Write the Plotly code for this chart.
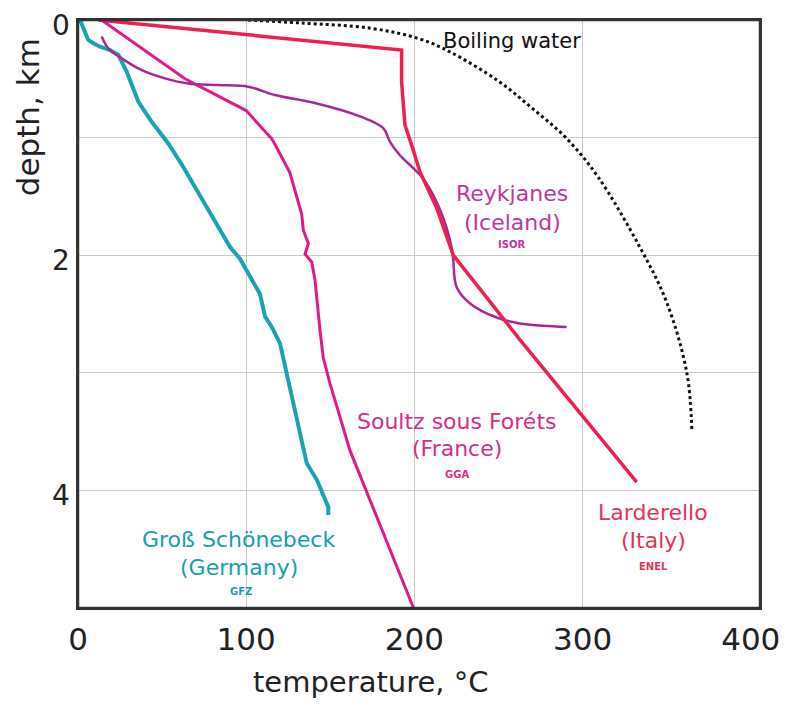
import plotly.graph_objects as go

# ---------------- data ----------------
boiling_T = [101, 132, 174, 203, 221, 250, 270, 290, 309, 334, 350, 362, 365]
boiling_d = [0, 0.025, 0.07, 0.16, 0.27, 0.52, 0.75, 1.0, 1.33, 1.93, 2.4, 3.0, 3.49]

lard_T = [12, 192.4, 192.4, 194.4, 198.4, 203.3, 213.3, 223.1, 262.8, 332.2]
lard_d = [0, 0.255, 0.525, 0.894, 1.064, 1.29, 1.6, 2.0, 2.72, 3.93]

soultz_T = [14, 63.6, 100, 115.2, 118, 126, 133, 134, 137, 135, 139, 140.9, 143.9,
            145.8, 149.8, 155.8, 161.7, 199.5]
soultz_d = [0, 0.5, 0.77, 1.01, 1.08, 1.3, 1.65, 1.79, 1.9, 1.99, 2.06, 2.21, 2.64,
            2.87, 3.09, 3.38, 3.66, 5.0]

gs_T = [1.2, 6.1, 9.1, 13.1, 19.0, 24.0, 29.0, 35.9, 43.8, 53.7, 62.6, 76.5, 90.4,
        96.3, 108.2, 111.2, 115.2, 120.1, 124.1, 134.0, 136.0, 142.0, 148.8, 148.8]
gs_d = [0, 0.17, 0.198, 0.227, 0.255, 0.298, 0.44, 0.695, 0.866, 1.05, 1.25, 1.59, 1.93,
        2.03, 2.33, 2.52, 2.61, 2.75, 3.01, 3.66, 3.77, 3.91, 4.14, 4.21]

rey_T = [14.1, 18, 26, 37.9, 51.7, 65.6, 83.4, 101.2, 117.1, 142, 167.7, 181.5, 185.5,
         191.4, 199.3, 205.3, 213.3, 219.2, 222.2, 223.1, 225.1, 233.1, 248.9, 262.8,
         276.6, 290.5]
rey_d = [0.14, 0.24, 0.326, 0.426, 0.496, 0.54, 0.553, 0.567, 0.638, 0.71, 0.82, 0.92,
         1.036, 1.15, 1.26, 1.35, 1.55, 1.77, 1.94, 2.04, 2.27, 2.41, 2.53, 2.58, 2.60, 2.61]

x_ticks = [0, 100, 200, 300, 400]
x_grid = [100, 200, 300]
y_ticks = [0, 2, 4]
y_grid = [1, 2, 3, 4]

# ---------------- styles ----------------
FONT = "DejaVu Sans"
C_GS, C_GS_T = "#1aa3b3", "#16a0ac"
C_SO, C_SO_T = "#e2198c", "#d92a8e"
C_LA, C_LA_T = "#ef2050", "#e2335a"
C_RE, C_RE_T = "#a42a92", "#c1369e"

fig = go.Figure()
fig.add_trace(go.Scatter(x=boiling_T, y=boiling_d, mode="lines", line_shape="spline",
                         line=dict(color="#111", width=3, dash="dot")))
fig.add_trace(go.Scatter(x=gs_T, y=gs_d, mode="lines",
                         line=dict(color=C_GS, width=4)))
fig.add_trace(go.Scatter(x=soultz_T, y=soultz_d, mode="lines",
                         line=dict(color=C_SO, width=3)))
fig.add_trace(go.Scatter(x=rey_T, y=rey_d, mode="lines", line_shape="spline",
                         line=dict(color=C_RE, width=2.5)))
fig.add_trace(go.Scatter(x=lard_T, y=lard_d, mode="lines",
                         line=dict(color=C_LA, width=3.5)))

labels = [
    ("Boiling water", 257.8, 0.18, 21, "#111", False),
    ("Reykjanes", 258.3, 1.472, 22, C_RE_T, False),
    ("(Iceland)", 258.3, 1.719, 22, C_RE_T, False),
    ("ISOR", 258.0, 1.906, 10, C_RE_T, True),
    ("Soultz sous Foréts", 225.3, 3.413, 22, C_SO_T, False),
    ("(France)", 225.6, 3.643, 22, C_SO_T, False),
    ("GGA", 225.6, 3.864, 10, C_SO_T, True),
    ("Larderello", 341.9, 4.187, 22, C_LA_T, False),
    ("(Italy)", 342.2, 4.426, 22, C_LA_T, False),
    ("ENEL", 342.2, 4.647, 10, C_LA_T, True),
    ("Groß Schönebeck", 95.7, 4.417, 22, C_GS_T, False),
    ("(Germany)", 95.7, 4.655, 22, C_GS_T, False),
    ("GFZ", 97.2, 4.86, 10, C_GS_T, True),
]
for txt, xv, yv, sz, col, bold in labels:
    fig.add_annotation(x=xv, y=yv, xref="x", yref="y", showarrow=False,
                       text=f"<b>{txt}</b>" if bold else txt,
                       font=dict(family=FONT, size=sz, color=col),
                       xanchor="center", yanchor="middle")

# y tick labels (placed slightly below their gridlines, as in the original)
for v in y_ticks:
    fig.add_annotation(x=-0.009, y=v, xref="paper", yref="y", showarrow=False,
                       text=str(v), yshift=-5,
                       font=dict(family=FONT, size=28, color="#222"),
                       xanchor="right", yanchor="middle")

fig.add_annotation(x=0.4296, y=-0.126, xref="paper", yref="paper", showarrow=False,
                   text="temperature, °C", font=dict(family=FONT, size=29, color="#222"),
                   xanchor="center", yanchor="middle")
fig.add_annotation(x=-0.073, y=0.835, xref="paper", yref="paper", showarrow=False,
                   text="depth, km", textangle=-90,
                   font=dict(family=FONT, size=31, color="#222"),
                   xanchor="center", yanchor="middle")

# plot frame (drawn on top as well)
fig.add_shape(type="rect", xref="paper", yref="paper", x0=0, y0=0, x1=1, y1=1,
              line=dict(color="#333", width=2.5), layer="above")

fig.update_xaxes(range=[0, 405.5], tickvals=x_ticks, showgrid=False, zeroline=False,
                 showline=True, mirror=True, linecolor="#333", linewidth=2,
                 ticks="outside", ticklen=3, tickcolor="rgba(0,0,0,0)",
                 automargin=False, ticklabeloverflow="allow",
                 tickfont=dict(family=FONT, size=31, color="#222"),
                 minor=dict(tickvals=x_grid, showgrid=True, gridcolor="#c8c8c8",
                            gridwidth=1, ticks=""))
fig.update_yaxes(range=[5.0, 0], tickvals=y_ticks, showticklabels=False,
                 showgrid=False, zeroline=False,
                 showline=True, mirror=True, linecolor="#333", linewidth=2,
                 ticks="", automargin=False,
                 minor=dict(tickvals=y_grid, showgrid=True, gridcolor="#c8c8c8",
                            gridwidth=1, ticks=""))

fig.update_layout(width=773, height=691, showlegend=False,
                  margin=dict(l=70, r=21, t=12, b=91),
                  paper_bgcolor="white", plot_bgcolor="white")

fig.write_html("out.html")
